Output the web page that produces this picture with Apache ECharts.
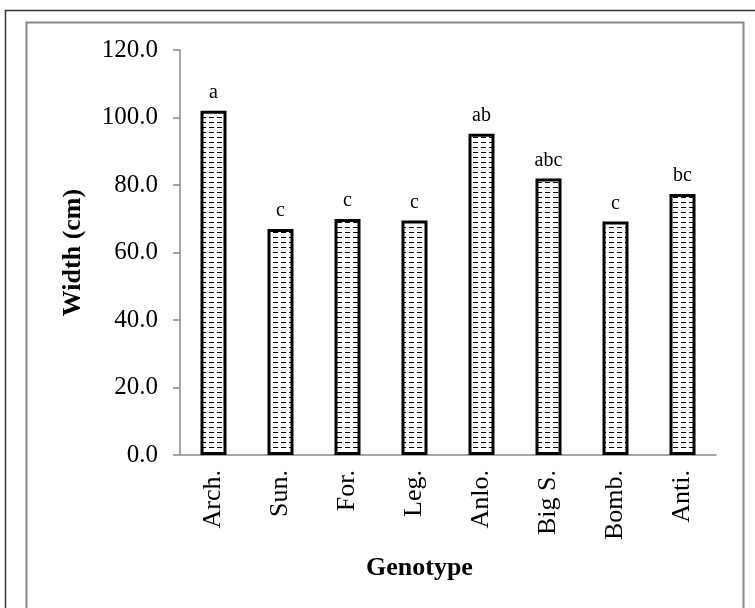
<!DOCTYPE html>
<html><head><meta charset="utf-8">
<script src="https://cdn.jsdelivr.net/npm/echarts@6/dist/echarts.min.js"></script>
<style>html,body{margin:0;padding:0;background:#fff}#c{width:755px;height:608px}</style>
</head><body><div id="c"></div>
<script>
var categories = ['Arch.', 'Sun.', 'For.', 'Leg.', 'Anlo.', 'Big S.', 'Bomb.', 'Anti.'];
var widths = [102.0, 67.0, 69.9, 69.5, 95.2, 81.9, 69.2, 77.3];
var letters = ['a', 'c', 'c', 'c', 'ab', 'abc', 'c', 'bc'];
var yTicks = [0, 20, 40, 60, 80, 100, 120];

var pc = document.createElement('canvas');
pc.width = 8; pc.height = 10;
var g = pc.getContext('2d');
g.fillStyle = '#fff'; g.fillRect(0, 0, 8, 10);
g.fillStyle = '#000';
g.fillRect(1, 2, 5, 1);
g.fillRect(1, 7, 5, 1);

var chart = echarts.init(document.getElementById('c'), null, {renderer: 'canvas'});
var font = '"Liberation Serif", "Times New Roman", serif';
chart.setOption({
  animation: false,
  backgroundColor: '#fff',
  grid: {left: 180, right: 39, top: 50, bottom: 153},
  graphic: [
    {type: 'rect', shape: {x: 5.5, y: 10.5, width: 800, height: 700}, style: {fill: null, stroke: '#333', lineWidth: 1.5}, silent: true},
    {type: 'rect', shape: {x: 26.5, y: 22.5, width: 717, height: 700}, style: {fill: null, stroke: '#888', lineWidth: 2}, silent: true},
    {type: 'text', left: 366, top: 555, style: {text: 'Genotype', font: 'bold 26px ' + font, fill: '#000'}}
  ],
  xAxis: {
    type: 'category', data: categories,
    axisLine: {lineStyle: {color: '#888', width: 1.5}},
    axisTick: {show: false},
    axisLabel: {rotate: 90, margin: 15, color: '#000', fontFamily: font, fontSize: 26}
  },
  yAxis: {
    type: 'value', min: 0, max: 120, interval: 20,
    name: 'Width (cm)', nameLocation: 'middle', nameGap: 94, nameRotate: 90,
    nameTextStyle: {fontFamily: font, fontSize: 26, fontWeight: 'bold', color: '#000'},
    axisLine: {show: true, lineStyle: {color: '#888', width: 1.5}},
    axisTick: {show: true, length: 7, lineStyle: {color: '#888', width: 1.5}},
    splitLine: {show: false},
    axisLabel: {margin: 22, color: '#000', fontFamily: font, fontSize: 25,
      formatter: function (v) { return yTicks.indexOf(v) >= 0 ? v.toFixed(1) : ''; }}
  },
  series: [{
    type: 'bar', data: widths, barWidth: 26,
    itemStyle: {color: {image: pc, repeat: 'repeat'}, borderColor: '#000', borderWidth: 3},
    label: {show: true, position: 'top', distance: 8, color: '#000', fontFamily: font, fontSize: 20,
      formatter: function (p) { return letters[p.dataIndex]; }}
  }]
});
</script></body></html>
